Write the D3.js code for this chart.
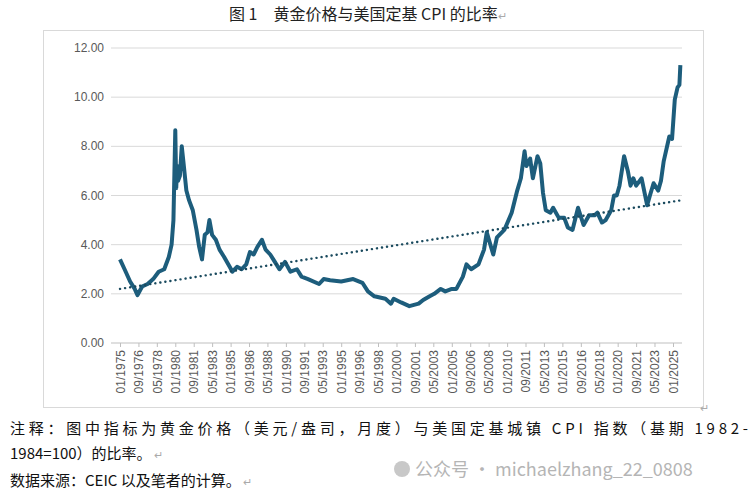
<!DOCTYPE html>
<html><head><meta charset="utf-8">
<script src="https://cdn.jsdelivr.net/npm/d3@7"></script>
<style>body{margin:0;background:#fff;font-family:"Noto Sans CJK SC","Liberation Sans",sans-serif}</style>
</head><body><svg id="c" width="756" height="500"></svg>
<script>
const dates = ["1975-01","1975-06","1975-12","1976-05","1976-08","1977-01","1977-07","1978-01","1978-07","1979-01","1979-06","1979-09","1979-11","1980-01","1980-02","1980-03","1980-04","1980-06","1980-08","1980-10","1981-01","1981-04","1981-08","1981-12","1982-03","1982-06","1982-09","1982-12","1983-02","1983-05","1983-09","1984-01","1984-06","1984-12","1985-03","1985-08","1986-01","1986-06","1986-10","1987-02","1987-06","1987-11","1988-03","1988-08","1989-01","1989-06","1989-12","1990-06","1991-01","1991-06","1992-01","1993-01","1993-06","1994-01","1995-01","1996-02","1996-12","1997-06","1998-01","1999-01","1999-07","1999-10","2000-06","2001-03","2001-08","2002-01","2002-06","2003-01","2003-06","2004-01","2004-06","2005-01","2005-06","2006-01","2006-05","2006-10","2007-06","2007-12","2008-03","2008-10","2009-02","2009-10","2010-06","2010-12","2011-04","2011-08","2011-10","2012-02","2012-05","2012-10","2013-01","2013-04","2013-07","2013-12","2014-03","2014-09","2015-03","2015-07","2015-12","2016-06","2016-12","2017-06","2017-12","2018-03","2018-08","2018-12","2019-06","2019-09","2019-12","2020-03","2020-08","2020-12","2021-03","2021-06","2021-09","2022-03","2022-09","2022-12","2023-04","2023-09","2023-12","2024-03","2024-09","2024-12","2025-03","2025-06","2025-08","2025-09"];
const ratio = [3.4,3.0,2.5,2.2,1.95,2.3,2.4,2.6,2.9,3.0,3.5,4.0,5.0,8.65,6.3,7.2,6.6,6.8,8.0,7.3,6.2,5.8,5.4,4.6,3.9,3.4,4.4,4.5,5.0,4.4,4.2,3.8,3.5,3.1,2.9,3.1,3.0,3.2,3.7,3.6,3.9,4.2,3.8,3.6,3.3,3.0,3.3,2.9,3.0,2.7,2.6,2.4,2.6,2.55,2.5,2.6,2.45,2.1,1.9,1.8,1.6,1.8,1.65,1.5,1.55,1.6,1.75,1.9,2.0,2.2,2.1,2.2,2.2,2.7,3.2,3.0,3.2,3.8,4.5,3.6,4.3,4.6,5.3,6.2,6.7,7.8,7.2,7.5,6.7,7.6,7.3,6.1,5.4,5.3,5.5,5.1,5.1,4.7,4.6,5.5,4.8,5.2,5.2,5.3,4.9,5.0,5.4,6.0,6.0,6.4,7.6,7.0,6.4,6.7,6.4,6.7,5.6,6.0,6.5,6.2,6.6,7.4,8.4,8.3,9.9,10.4,10.5,11.3];
const trendDates = ["1975-01","2025-09"];
const trendVals = [2.2,5.8];
const yTicks = [0,2,4,6,8,10,12];
const xTickStart = "1975-01", xTickStepMonths = 20, xTickCount = 31;
const title = "图 1　黄金价格与美国定基 CPI 的比率";

const svg = d3.select("#c");
const parse = d3.timeParse("%Y-%m");
const fmt = d3.timeFormat("%m/%Y");
svg.append("rect").attr("x",43.5).attr("y",30.5).attr("width",660).attr("height",377).attr("fill","none").attr("stroke","#d9d9d9");
const t = svg.append("text").attr("x",229).attr("y",20).attr("font-size",16).attr("fill","#222");
t.append("tspan").text(title);
t.append("tspan").attr("font-size",11).attr("fill","#aaa").text("↵");

const x0 = parse(xTickStart);
const tickDates = d3.range(xTickCount).map(i=>d3.timeMonth.offset(x0,i*xTickStepMonths));
const x = d3.scaleTime().domain([x0, tickDates[tickDates.length-1]]).range([120,673]);
const y = d3.scaleLinear().domain([0,12]).range([343,48]);

const g = svg.append("g");
g.selectAll("line.grid").data(yTicks).join("line").attr("x1",111).attr("x2",682)
 .attr("y1",d=>y(d)).attr("y2",d=>y(d)).attr("stroke",d=>d===0?"#bfbfbf":"#d9d9d9").attr("stroke-width",1);
g.selectAll("text.yl").data(yTicks).join("text").attr("x",104).attr("y",d=>y(d)+4).attr("text-anchor","end")
 .attr("font-family","Liberation Sans, Arial").attr("font-size",12).attr("fill","#595959").text(d=>d.toFixed(2));
const xa = svg.append("g").attr("transform","translate(0,343)")
 .call(d3.axisBottom(x).tickValues(tickDates).tickFormat(fmt).tickSize(4));
xa.select(".domain").remove();
xa.selectAll("line").attr("stroke","#bfbfbf");
xa.selectAll("text").attr("transform","rotate(-90)").attr("text-anchor","end").attr("x",-7).attr("y",0).attr("dy","0.35em")
 .attr("font-family","Liberation Sans, Arial").attr("font-size",12).attr("fill","#595959");

const data = dates.map((d,i)=>({d:parse(d),v:ratio[i]}));
svg.append("path").datum(data).attr("fill","none").attr("stroke","#1d5d7c").attr("stroke-width",4).attr("stroke-linejoin","round")
 .attr("d",d3.line().x(p=>x(p.d)).y(p=>y(p.v)));
const td = trendDates.map((d,i)=>({d:parse(d),v:trendVals[i]}));
svg.append("path").datum(td).attr("fill","none").attr("stroke","#1a4a5e").attr("stroke-width",2.4).attr("stroke-dasharray","0.1 5").attr("stroke-linecap","round")
 .attr("d",d3.line().x(p=>x(p.d)).y(p=>y(p.v)));

svg.append("text").attr("x",700).attr("y",412).attr("font-size",11).attr("fill","#aaa").text("↵");
svg.append("text").attr("x",10).attr("y",434).attr("font-size",15).attr("fill","#111")
 .attr("textLength",738).attr("lengthAdjust","spacing").text("注释：图中指标为黄金价格（美元/盎司，月度）与美国定基城镇 CPI 指数（基期 1982-");
const notes=[["1984=100）的比率。",459],["数据来源：CEIC 以及笔者的计算。",486]];
notes.forEach(n=>{const e=svg.append("text").attr("x",10).attr("y",n[1]).attr("font-size",15).attr("fill","#111");
 e.append("tspan").text(n[0]); e.append("tspan").attr("font-size",11).attr("fill","#aaa").text(" ↵");});
svg.append("text").attr("x",415).attr("y",476).attr("font-size",18).attr("fill","#b5b5b5").text("公众号 · michaelzhang_22_0808");
svg.append("circle").attr("cx",402).attr("cy",469).attr("r",8).attr("fill","#c8c8c8");
</script></body></html>
